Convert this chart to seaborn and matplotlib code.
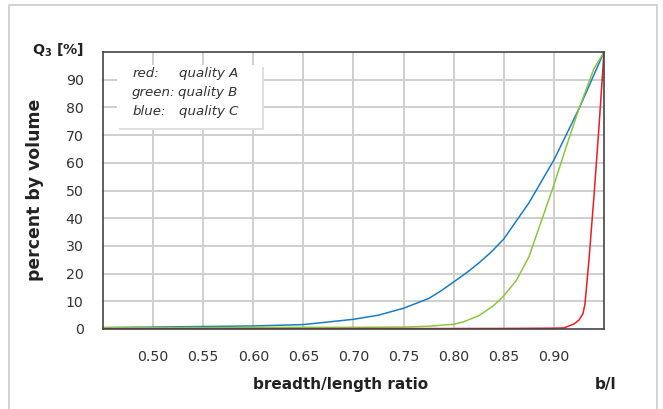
import matplotlib
matplotlib.use("Agg")
import matplotlib.pyplot as plt
from matplotlib.patches import Rectangle
import numpy as np
import pandas as pd
import seaborn as sns

# ---- data ----
red_x = [0.45, 0.60, 0.75, 0.85, 0.90, 0.91, 0.92, 0.925, 0.929, 0.931, 0.935, 0.94, 0.945, 0.95]
red_y = [0.1, 0.1, 0.15, 0.2, 0.3, 0.4, 1.8, 3.2, 5.5, 9.0, 25, 48, 73, 100]

green_x = [0.45, 0.55, 0.65, 0.70, 0.75, 0.775, 0.80, 0.81, 0.825, 0.84, 0.85, 0.8625, 0.875, 0.8875,
           0.90, 0.9125, 0.925, 0.94, 0.95]
green_y = [0.5, 0.5, 0.6, 0.6, 0.7, 1.0, 1.7, 2.6, 4.8, 8.5, 12, 17.5, 26, 39, 52, 66, 79.5, 94, 100]

blue_x = [0.45, 0.50, 0.55, 0.60, 0.65, 0.70, 0.725, 0.75, 0.775, 0.7875, 0.80, 0.8125, 0.825, 0.8375,
          0.85, 0.875, 0.90, 0.925, 0.95]
blue_y = [0.5, 0.7, 0.9, 1.1, 1.6, 3.5, 5.0, 7.5, 11.0, 13.8, 17, 20.2, 23.8, 27.8, 32.5, 45.5, 61, 79.5, 100]

series_names = ["quality A", "quality B", "quality C"]
series_colors = ["#ec1c24", "#8cc63e", "#1b7cc4"]

x_ticks = [0.50, 0.55, 0.60, 0.65, 0.70, 0.75, 0.80, 0.85, 0.90]
x_tick_labels = ["0.50", "0.55", "0.60", "0.65", "0.70", "0.75", "0.80", "0.85", "0.90"]
y_ticks = [0, 10, 20, 30, 40, 50, 60, 70, 80, 90]

legend_rows = [("red:", "quality A"), ("green:", "quality B"), ("blue:", "quality C")]

df = pd.concat([
    pd.DataFrame({"ratio": red_x, "pct": red_y, "quality": series_names[0]}),
    pd.DataFrame({"ratio": green_x, "pct": green_y, "quality": series_names[1]}),
    pd.DataFrame({"ratio": blue_x, "pct": blue_y, "quality": series_names[2]}),
], ignore_index=True)

sns.set_theme(style="white")
plt.rcParams["font.family"] = ["DejaVu Sans"]

W, H = 663, 409
fig = plt.figure(figsize=(W / 100, H / 100), dpi=100)
fig.patch.set_facecolor("white")

# outer light frame
fig.patches.append(Rectangle((9 / W, -0.05), (657 - 9) / W, 1.05 - 5 / H,
                             transform=fig.transFigure, fill=False,
                             edgecolor="#cfcfcf", linewidth=1.3))

ax = fig.add_axes([103 / W, 1 - 329 / H, (604 - 103) / W, (329 - 52) / H])

# grid
for xv in x_ticks:
    ax.axvline(xv, color="#cfcfcf", lw=1.4, zorder=0)
for yv in y_ticks[1:]:
    ax.axhline(yv, color="#cfcfcf", lw=1.4, zorder=0)

sns.lineplot(data=df, x="ratio", y="pct", hue="quality", hue_order=series_names[::-1],
             palette=dict(zip(series_names, series_colors)), ax=ax,
             linewidth=1.1, legend=False, estimator=None, sort=False)

ax.set_xlim(0.45, 0.95)
ax.set_ylim(0, 100)
ax.set_xticks(x_ticks)
ax.set_xticklabels(x_tick_labels)
ax.set_yticks(y_ticks)
ax.tick_params(axis="x", length=0, pad=15, labelsize=10.2, colors="#333333")
ax.tick_params(axis="y", length=0, pad=14, labelsize=10.2, colors="#333333")
ax.set_xlabel("")
ax.set_ylabel("")
for s in ax.spines.values():
    s.set_color("#444444")
    s.set_linewidth(1.2)

# Q3 [%] label at the top of the y axis
ax.text(-0.038, 100.5, r"Q$_\mathbf{3}$ [%]", transform=ax.get_yaxis_transform(),
        ha="right", va="center", fontsize=10.2, fontweight="bold", color="#222222")

# legend-like text box
ax.add_patch(Rectangle((0.032, 0.718), 0.29, 0.228, transform=ax.transAxes,
                       facecolor="#e0e0e0", edgecolor="none", zorder=4))
ax.add_patch(Rectangle((0.028, 0.726), 0.29, 0.228, transform=ax.transAxes,
                       facecolor="white", edgecolor="none", zorder=5))
row_y = [0.924, 0.854, 0.784]
val_x = [0.152, 0.149, 0.152]
for (k, v), yy, vx in zip(legend_rows, row_y, val_x):
    ax.text(0.058, yy, k, transform=ax.transAxes, ha="left", va="center",
            fontsize=9.6, style="italic", color="#333333", zorder=6)
    ax.text(vx, yy, v, transform=ax.transAxes, ha="left", va="center",
            fontsize=9.6, style="italic", color="#333333", zorder=6)

# axis titles
fig.text(35 / W, 1 - 190 / H, "percent by volume", rotation=90, ha="center", va="center",
         fontsize=12.4, fontweight="bold", color="#222222")
fig.text(341 / W, 1 - 385 / H, "breadth/length ratio", ha="center", va="center",
         fontsize=11, fontweight="bold", color="#222222")
fig.text(606 / W, 1 - 385 / H, "b/l", ha="center", va="center",
         fontsize=11, fontweight="bold", color="#222222")

fig.savefig("out.png", dpi=100, facecolor="white")
